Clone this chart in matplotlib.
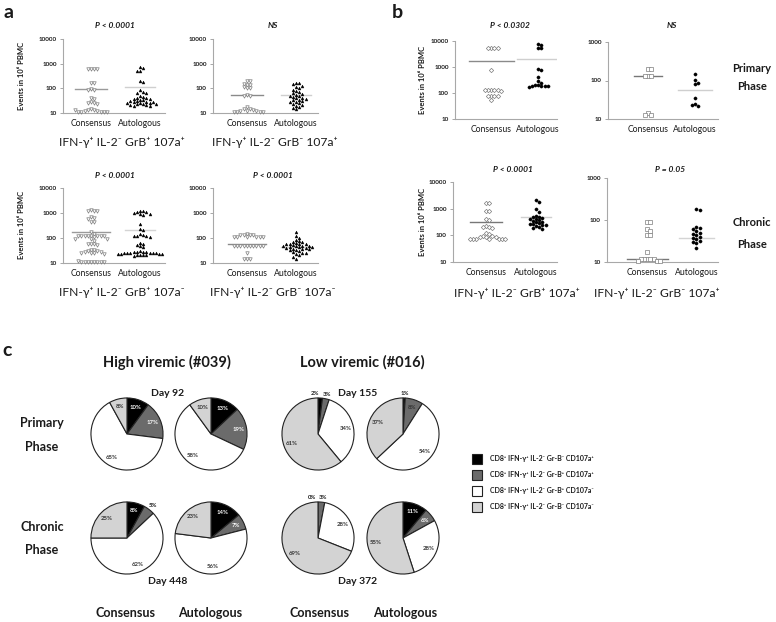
import numpy as np
import matplotlib
matplotlib.use('Agg')
import matplotlib.pyplot as plt
from matplotlib.patches import Rectangle
from matplotlib.ticker import FixedLocator, FixedFormatter, NullLocator

# ---------------- data ----------------
groups = ["Consensus", "Autologous"]
decade_ticks = [10, 100, 1000, 10000]
decade_labels = ["10", "100", "1000", "10000"]

# panel a (events per 10^6 PBMC)
a1_cons = [600, 600, 600, 600, 160, 160, 95, 88, 88, 40, 36, 28, 25, 25, 24,
           14, 13, 13, 12, 12, 11, 11, 11, 11, 11, 13]
a1_auto = [750, 650, 520, 500, 200, 175, 85, 70, 65, 65, 48, 45, 42, 40, 38, 36,
           34, 33, 31, 30, 29, 28, 27, 26, 25, 25, 24, 24, 23, 22, 21, 20, 19]
a1_med = [90, 110]
a2_cons = [200, 200, 150, 140, 140, 110, 100, 100, 55, 50, 48,
           17, 14, 14, 13, 12, 12, 12, 11, 11, 11, 11]
a2_auto = [170, 160, 150, 130, 110, 100, 85, 75, 70, 62, 58, 55, 50, 48, 45, 42,
           40, 38, 35, 33, 30, 28, 27, 25, 24, 22, 20, 18, 16, 14]
a2_med = [52, 52]
a3_cons = [1300, 1250, 1200, 1250, 700, 620, 600, 450, 450, 170, 150,
           125, 120, 120, 118, 118, 115, 115, 115, 112, 95, 95, 90, 75,
           55, 55, 55, 52, 32, 32, 30, 30, 28, 27, 26, 24, 24, 23,
           11, 11, 11, 11, 11, 11, 11, 11, 12]
a3_auto = [1200, 1150, 1100, 1050, 1000, 950, 900, 850, 380, 220, 200,
           140, 130, 125, 120, 115, 110, 65, 58, 52, 47, 42,
           29, 28, 28, 27, 27, 26, 26, 25, 25, 24, 24, 23, 23, 22, 22, 21, 21, 20, 20, 19]
a3_med = [180, 200]
a4_cons = [150, 130, 130, 130, 130, 110, 105, 105, 105, 105, 105,
           50, 50, 50, 49, 49, 49, 48, 48, 48, 48, 26, 15, 14, 15]
a4_auto = [180, 120, 100, 85, 75, 70, 68, 62, 60, 58, 56, 55, 52, 50, 50, 48, 46,
           45, 44, 42, 40, 40, 38, 36, 35, 33, 32, 30, 28, 26, 25, 22, 20, 17, 14]
a4_med = [57, 45]

# panel b
b1_cons = [5500, 5500, 5500, 5500, 780, 135, 130, 130, 130, 125, 115, 78, 75, 75, 75, 52]
b1_auto = [8000, 7000, 5600, 5200, 850, 780, 420, 290, 250, 210, 200, 190, 185, 180, 180, 175]
b1_med = [1650, 1950]
b2_cons = [200, 200, 130, 130, 130, 14, 13, 13]
b2_auto = [150, 105, 82, 85, 35, 25, 22, 23]
b2_med = [130, 55]
b3_cons = [1600, 1600, 850, 850, 420, 380, 230, 210, 200, 190, 120, 110,
           95, 92, 90, 90, 88, 75, 75, 75, 75, 75, 75, 75]
b3_auto = [2100, 1800, 950, 750, 550, 500, 480, 450, 420, 400, 380, 350, 330, 310,
           290, 270, 260, 250, 240, 220, 200, 190, 180]
b3_med = [320, 480]
b4_cons = [90, 88, 60, 55, 45, 45, 17, 12, 12, 12, 12, 12, 10.5, 10.5, 10.5]
b4_auto = [180, 175, 70, 65, 60, 55, 50, 47, 45, 40, 38, 35, 32, 30, 28, 22]
b4_med = [12, 38]

# panel c pies (% of slices, order: GrB-107a+, GrB+107a+, GrB+107a-, GrB-107a-)
pie_high_prim_cons = [10, 17, 65, 8]
pie_high_prim_auto = [13, 19, 58, 10]
pie_low_prim_cons = [2, 3, 34, 61]
pie_low_prim_auto = [1, 8, 54, 37]
pie_high_chron_cons = [8, 5, 62, 25]
pie_high_chron_auto = [14, 7, 56, 23]
pie_low_chron_cons = [0, 3, 28, 69]
pie_low_chron_auto = [11, 6, 28, 55]
legend_labels = ["CD8⁺ IFN-γ⁺ IL-2⁻ Gr-B⁻ CD107a⁺",
                 "CD8⁺ IFN-γ⁺ IL-2⁻ Gr-B⁺ CD107a⁺",
                 "CD8⁺ IFN-γ⁺ IL-2⁻ Gr-B⁺ CD107a⁻",
                 "CD8⁺ IFN-γ⁺ IL-2⁻ Gr-B⁻ CD107a⁻"]

# ---------------- figure ----------------
plt.rcParams['font.family'] = ['Lato', 'DejaVu Sans']
W, H = 776, 622
fig = plt.figure(figsize=(W / 100, H / 100), dpi=100)
TXT = '#1a1a1a'
pie_colors = ['#000000', '#6b6b6b', '#ffffff', '#d3d3d3']


def T(x, y, s, **kw):
    kw.setdefault('ha', 'center')
    kw.setdefault('va', 'center')
    kw.setdefault('color', TXT)
    fig.text(x / W, 1 - y / H, s, **kw)


def add_ax(l, t, r, b):
    return fig.add_axes([l / W, 1 - b / H, (r - l) / W, (b - t) / H])


def swarm(ax, xc, vals, d=3.2):
    tr = ax.transData
    inv = tr.inverted()
    placed, xs = [], []
    cands = [0.0]
    for i in range(1, 40):
        cands += [i * d, -i * d]
    for v in vals:
        X0, Y = tr.transform((xc, v))
        X = X0
        for off in cands:
            X = X0 + off
            if all((X - px) ** 2 + (Y - py) ** 2 >= d * d * 0.95 for px, py in placed):
                break
        placed.append((X, Y))
        xs.append(inv.transform((X, Y))[0])
    return xs


def dotplot(box, xlim, ymax, cons, auto, med, cmark, amark, hw,
            cline='#8a8a8a', aline='#cccccc', cms=2.5, ams=2.1):
    ax = add_ax(*box)
    ax.set_yscale('log')
    ax.set_ylim(10, ymax)
    ax.set_xlim(*xlim)
    for s in ['top', 'right']:
        ax.spines[s].set_visible(False)
    for s in ['left', 'bottom']:
        ax.spines[s].set_color('#a8a8a8')
        ax.spines[s].set_linewidth(0.8)
    ticks = [t for t in decade_ticks if t <= ymax]
    ax.yaxis.set_major_locator(FixedLocator(ticks))
    ax.yaxis.set_major_formatter(FixedFormatter(decade_labels[:len(ticks)]))
    ax.yaxis.set_minor_locator(NullLocator())
    ax.tick_params(axis='y', labelsize=4.6, length=2.5, width=0.6, color='#999999',
                   pad=2, labelcolor=TXT)
    for lab in ax.get_yticklabels():
        lab.set_fontweight('bold')
    ax.set_xticks([1, 2])
    ax.set_xticklabels(groups, fontsize=6.2, color=TXT)
    ax.tick_params(axis='x', length=0, pad=4)
    # median lines
    ax.plot([1 - hw[0], 1 + hw[0]], [med[0], med[0]], color=cline, lw=1.0, zorder=1)
    ax.plot([2 - hw[1], 2 + hw[1]], [med[1], med[1]], color=aline, lw=1.0, zorder=1)
    xc = swarm(ax, 1, cons)
    xa = swarm(ax, 2, auto)
    ax.plot(xc, cons, ls='none', marker=cmark, ms=cms, mfc='white', mec='#7d7d7d',
            mew=0.5, zorder=3, clip_on=False)
    ax.plot(xa, auto, ls='none', marker=amark, ms=ams, mfc='black', mec='black',
            mew=0.3, zorder=3, clip_on=False)
    return ax


# panel a
dotplot((63, 39, 165, 113), (0.43, 2.51), 10000, a1_cons, a1_auto, a1_med, 'v', '^',
        (0.32, 0.3), cline='#9a9a9a', aline='#cfcfcf')
dotplot((213, 39, 318, 113), (0.31, 2.45), 10000, a2_cons, a2_auto, a2_med, 'v', '^',
        (0.32, 0.3), cline='#8a8a8a', aline='#cfcfcf')
dotplot((63, 188, 165, 263), (0.43, 2.51), 10000, a3_cons, a3_auto, a3_med, 'v', '^',
        (0.38, 0.3), cline='#9a9a9a', aline='#d4d4d4')
dotplot((213, 188, 318, 263), (0.31, 2.45), 10000, a4_cons, a4_auto, a4_med, 'v', '^',
        (0.38, 0.3), cline='#8a8a8a', aline='#d4d4d4')
# panel b
dotplot((455, 41, 557, 119), (0.23, 2.40), 10000, b1_cons, b1_auto, b1_med, 'D', 'o',
        (0.48, 0.45), cline='#8a8a8a', aline='#cfcfcf', cms=2.2, ams=2.3)
dotplot((608, 42, 718, 119), (0.15, 2.49), 1000, b2_cons, b2_auto, b2_med, 's', 'o',
        (0.3, 0.37), cline='#777777', aline='#cfcfcf', cms=2.2, ams=2.3)
dotplot((453, 182, 557, 262), (0.34, 2.42), 10000, b3_cons, b3_auto, b3_med, 'D', 'o',
        (0.32, 0.3), cline='#777777', aline='#cfcfcf', cms=2.2, ams=2.3)
dotplot((607, 178, 718, 262), (0.18, 2.44), 1000, b4_cons, b4_auto, b4_med, 's', 'o',
        (0.42, 0.35), cline='#777777', aline='#d4d4d4', cms=2.2, ams=2.3)

# titles / labels for a and b
ital = dict(fontsize=6, fontweight='bold', style='italic')
T(8, 12, 'a', fontsize=14, fontweight='bold')
T(397, 12, 'b', fontsize=14, fontweight='bold')
T(115, 26, 'P < 0.0001', **ital)
T(273, 26, 'NS', **ital)
T(115, 175, 'P < 0.0001', **ital)
T(273, 175, 'P < 0.0001', **ital)
T(510, 26, 'P < 0.0302', **ital)
T(672, 26, 'NS', **ital)
T(513, 170, 'P < 0.0001', **ital)
T(670, 170, 'P = 0.05', **ital)
ylab = 'Events in 10⁶ PBMC'
for (x, y) in [(22, 76), (22, 225), (423, 80), (423, 222)]:
    T(x, y, ylab, fontsize=5.5, fontweight='bold', rotation=90)
sub = dict(fontsize=8.7)
T(122, 142, 'IFN-γ⁺ IL-2⁻ GrB⁺ 107a⁺', **sub)
T(275, 142, 'IFN-γ⁺ IL-2⁻ GrB⁻ 107a⁺', **sub)
T(122, 292, 'IFN-γ⁺ IL-2⁻ GrB⁺ 107a⁻', **sub)
T(273, 292, 'IFN-γ⁺ IL-2⁻ GrB⁻ 107a⁻', **sub)
T(517, 293, 'IFN-γ⁺ IL-2⁻ GrB⁺ 107a⁺', **sub)
T(657, 293, 'IFN-γ⁺ IL-2⁻ GrB⁻ 107a⁺', **sub)
phase = dict(fontsize=8, fontweight='bold')
T(752, 68, 'Primary', **phase)
T(752, 86, 'Phase', **phase)
T(752, 222, 'Chronic', **phase)
T(752, 244, 'Phase', **phase)


# ---------------- panel c ----------------
def pie(cx, cy, vals):
    size = 80
    ax = fig.add_axes([(cx - size / 2) / W, 1 - (cy + size / 2) / H, size / W, size / H])
    wedges, _ = ax.pie(vals, colors=pie_colors, startangle=90, counterclock=False,
                       radius=1, wedgeprops=dict(edgecolor='#222222', linewidth=0.8))
    ax.set_xlim(-1.11, 1.11)
    ax.set_ylim(-1.11, 1.11)
    ax.set_aspect('equal')
    prev_small_x = None
    for i, (w, v) in enumerate(zip(wedges, vals)):
        ang = np.deg2rad((w.theta1 + w.theta2) / 2)
        if v <= 5:
            x = 1.16 * np.cos(ang)
            y = 1.13 * np.sin(ang)
            if i + 1 < len(vals) and vals[i + 1] <= 5:
                x -= 0.17
            elif prev_small_x is not None:
                x = max(x, prev_small_x + 0.32)
            prev_small_x = x
            col = TXT
        else:
            prev_small_x = None
            x = 0.78 * np.cos(ang)
            y = 0.78 * np.sin(ang)
            if i == 0 or (i == 1 and v != 8):
                col = 'white'
            else:
                col = '#333333'
        ax.text(x, y, f'{v}%', fontsize=4.3, fontweight='bold', color=col,
                ha='center', va='center', clip_on=False)
    return ax


pie(127, 434, pie_high_prim_cons)
pie(211, 434, pie_high_prim_auto)
pie(318, 434, pie_low_prim_cons)
pie(403, 434, pie_low_prim_auto)
pie(127, 538, pie_high_chron_cons)
pie(211, 538, pie_high_chron_auto)
pie(318, 538, pie_low_chron_cons)
pie(403, 538, pie_low_chron_auto)

T(7, 350, 'c', fontsize=14, fontweight='bold')
T(167, 362, 'High viremic (#039)', fontsize=10.5, fontweight='bold')
T(362, 362, 'Low viremic (#016)', fontsize=10.5, fontweight='bold')
day = dict(fontsize=7.5, fontweight='bold')
T(168, 393, 'Day 92', **day)
T(358, 393, 'Day 155', **day)
T(168, 581, 'Day 448', **day)
T(358, 581, 'Day 372', **day)
cph = dict(fontsize=9, fontweight='bold')
T(42, 423, 'Primary', **cph)
T(42, 447, 'Phase', **cph)
T(42, 527, 'Chronic', **cph)
T(42, 550, 'Phase', **cph)
T(125, 613, 'Consensus', **cph)
T(210, 613, 'Autologous', **cph)
T(319, 613, 'Consensus', **cph)
T(405, 613, 'Autologous', **cph)

for k, (lab, col) in enumerate(zip(legend_labels, pie_colors)):
    yc = 459 + 16 * k
    fig.add_artist(Rectangle((472 / W, 1 - (yc + 5) / H), 10 / W, 10 / H,
                             transform=fig.transFigure, fc=col, ec='#222222', lw=0.8))
    T(490, yc, lab, fontsize=5, fontweight='bold', ha='left')

fig.savefig('out.png', dpi=100)
